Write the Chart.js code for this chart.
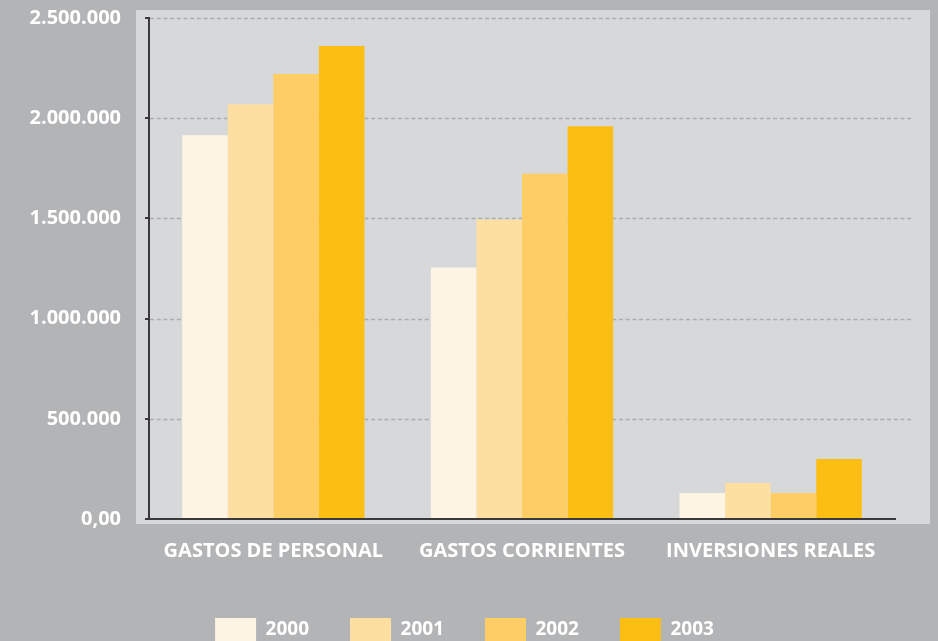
<!DOCTYPE html>
<html>
<head>
<meta charset="utf-8">
<script src="https://cdn.jsdelivr.net/npm/chart.js@4.4.1/dist/chart.umd.min.js"></script>
<style>
  html, body { margin:0; padding:0; background:#b3b4b6; overflow:hidden; }
  #wrap { position:relative; width:938px; height:641px; overflow:hidden; }
  #c { position:absolute; left:0; top:-18px; }
</style>
</head>
<body>
<div id="wrap"><canvas id="c" width="938" height="669"></canvas></div>
<script>
const categories = ['GASTOS DE PERSONAL', 'GASTOS CORRIENTES', 'INVERSIONES REALES'];
const seriesNames = ['2000', '2001', '2002', '2003'];
const values2000 = [1915000, 1255000, 130000];
const values2001 = [2070000, 1495000, 180000];
const values2002 = [2220000, 1723000, 130000];
const values2003 = [2360000, 1960000, 300000];
const yTickValues = [0, 500000, 1000000, 1500000, 2000000, 2500000];
const yTickLabels = ['0,00', '500.000', '1.000.000', '1.500.000', '2.000.000', '2.500.000'];
const colors = ['#fef4e3', '#fedfa2', '#fecd66', '#fdbe14'];

const FONT = "'Open Sans', sans-serif";

const plotBg = {
  id: 'plotBg',
  afterLayout(chart) {
    if (chart.legend) { chart.legend.left += 17; chart.legend.right += 17; }
  },
  beforeDraw(chart) {
    const {ctx, chartArea: a} = chart;
    ctx.save();
    ctx.fillStyle = '#d7d8da';
    ctx.fillRect(a.left - 13, a.top - 8, (a.right + 35) - (a.left - 13), (a.bottom + 5) - (a.top - 8));
    const y = chart.scales.y;
    ctx.strokeStyle = '#abacae';
    ctx.lineWidth = 1.5;
    ctx.setLineDash([4, 2.7]);
    yTickValues.forEach(v => {
      if (v === 0) return;
      const py = Math.round(y.getPixelForValue(v)) + 0.5;
      ctx.beginPath();
      ctx.moveTo(a.left + 1, py);
      ctx.lineTo(a.right + 19, py);
      ctx.stroke();
    });
    ctx.restore();
  }
};

const datasets = [values2000, values2001, values2002, values2003].map((vals, i) => ({
  label: seriesNames[i],
  data: vals,
  backgroundColor: colors[i],
  borderWidth: 0,
  barPercentage: 1.0,
  categoryPercentage: 0.733
}));

new Chart(document.getElementById('c'), {
  type: 'bar',
  data: { labels: categories, datasets },
  options: {
    responsive: false,
    animation: false,
    devicePixelRatio: 1,
    layout: { padding: { top: 0, right: 43, left: 0, bottom: 0 } },
    plugins: {
      tooltip: { enabled: false },
      legend: {
        position: 'bottom',
        labels: {
          boxWidth: 41,
          boxHeight: 23,
          padding: 41,
          color: '#ffffff',
          font: { family: FONT, size: 19, weight: 'bold' }
        }
      }
    },
    scales: {
      x: {
        grid: { display: false, drawTicks: false },
        border: { display: true, color: '#3a3a3c', width: 2 },
        ticks: {
          color: '#ffffff',
          padding: 20,
          maxRotation: 0,
          font: { family: FONT, size: 20, weight: 'bold' }
        },
        afterFit(scale) { scale.height = 58; }
      },
      y: {
        min: 0,
        max: 2500000,
        afterBuildTicks(scale) { scale.ticks = yTickValues.map(v => ({ value: v })); },
        grid: { display: true, drawOnChartArea: false, drawTicks: true, tickLength: 4, color: '#3a3a3c', lineWidth: 2 },
        border: { display: true, color: '#3a3a3c', width: 2 },
        ticks: {
          color: '#ffffff',
          padding: 24,
          font: { family: FONT, size: 20, weight: 'bold' },
          callback(value) {
            const idx = yTickValues.indexOf(value);
            return idx >= 0 ? yTickLabels[idx] : '';
          }
        },
        afterFit(scale) { scale.width = 149; }
      }
    }
  },
  plugins: [plotBg]
});
</script>
</body>
</html>
